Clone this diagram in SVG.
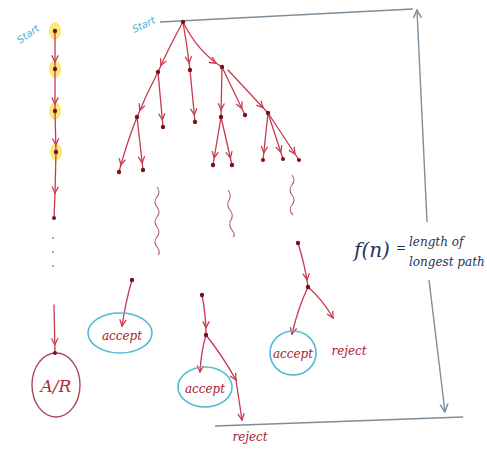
<svg xmlns="http://www.w3.org/2000/svg" width="487" height="453" viewBox="0 0 487 453">
<style>
.e{fill:none;stroke:#c8394f;stroke-width:1.3;stroke-linecap:round}
.ea{fill:none;stroke:#c8394f;stroke-width:1.3;stroke-linecap:round;marker-end:url(#ah)}
.et{fill:none;stroke:#c8394f;stroke-width:1.3;stroke-linecap:round;marker-end:url(#at)}
.sq{fill:none;stroke:#b86a7a;stroke-width:1.2}
.dot{fill:#7a1020}
.g{fill:none;stroke:#7d8e9c;stroke-width:1.4}
.ga{fill:none;stroke:#7d8e9c;stroke-width:1.4;marker-end:url(#ag)}
.blob{fill:#f7e24c;opacity:.75}
.st{font-family:"DejaVu Sans",sans-serif;font-size:10px;fill:#3cb4d8;font-style:italic}
.lbl{font-family:"DejaVu Serif","Liberation Serif",serif;font-style:italic;font-size:12px;fill:#a8182e}
.cl{fill:none;stroke:#4fbcd4;stroke-width:1.6}
.fn{font-family:"DejaVu Serif","Liberation Serif",serif;font-style:italic;fill:#22335a}
</style>
<defs>
<marker id="ah" viewBox="0 0 10 10" refX="18" refY="5" markerWidth="8" markerHeight="8" orient="auto" markerUnits="userSpaceOnUse"><path d="M1,1 L9,5 L1,9" fill="none" stroke="#c8394f" stroke-width="1.6"/></marker>
<marker id="at" viewBox="0 0 10 10" refX="9" refY="5" markerWidth="8" markerHeight="8" orient="auto" markerUnits="userSpaceOnUse"><path d="M1,1 L9,5 L1,9" fill="none" stroke="#c8394f" stroke-width="1.6"/></marker>
<marker id="ag" viewBox="0 0 10 10" refX="9" refY="5" markerWidth="10" markerHeight="10" orient="auto" markerUnits="userSpaceOnUse"><path d="M1,1 L9,5 L1,9" fill="none" stroke="#7d8e9c" stroke-width="1.5"/></marker>
</defs>
<rect width="487" height="453" fill="#ffffff"/>

<!-- frame lines -->
<g id="measure">
<path class="g" d="M160,22 L413,9"/>
<path class="g" d="M215,426 L463,417"/>
<path class="ga" d="M427,222 L417,10"/>
<path class="ga" d="M429,280 L445,412"/>
<text class="fn" x="354" y="257" font-size="20">f(n)</text>
<text class="fn" x="396" y="252" font-size="12">=</text>
<text class="fn" x="409" y="246" font-size="12">length of</text>
<text class="fn" x="409" y="266" font-size="12">longest path</text>
</g>

<!-- left chain -->
<g id="chain">
<ellipse class="blob" cx="55" cy="31" rx="6" ry="9"/>
<ellipse class="blob" cx="55" cy="69" rx="6" ry="9"/>
<ellipse class="blob" cx="55" cy="111" rx="6" ry="9"/>
<ellipse class="blob" cx="56" cy="152" rx="6" ry="9"/>
<text class="st" transform="translate(20,44) rotate(-35)">Start</text>
</g>

<g id="connectors">
<!-- left chain -->
<path class="ea" d="M55,31 L55,69"/>
<path class="ea" d="M55,69 L55,111"/>
<path class="ea" d="M55,111 L56,152"/>
<path class="et" d="M56,152 L55,193"/>
<path class="e" d="M55,193 L54,218"/>
<path class="ea" d="M54,305 L55,352"/>
<!-- main tree -->
<path class="ea" d="M183,22 Q170,45 158,72"/>
<path class="ea" d="M183,22 Q187,45 190,70"/>
<path class="ea" d="M183,22 Q198,52 222,67"/>
<path class="ea" d="M158,72 Q146,95 137,117"/>
<path class="ea" d="M158,72 L163,127"/>
<path class="ea" d="M190,70 L195,122"/>
<path class="ea" d="M137,117 Q126,145 119,172"/>
<path class="ea" d="M137,117 L143,170"/>
<path class="ea" d="M222,67 L221,117"/>
<path class="ea" d="M222,67 L245,115"/>
<path class="ea" d="M228,70 L268,113"/>
<path class="ea" d="M221,117 L213,165"/>
<path class="ea" d="M221,117 L232,165"/>
<path class="ea" d="M268,113 L263,160"/>
<path class="ea" d="M268,113 L283,159"/>
<path class="ea" d="M268,113 L299,160"/>
<!-- squiggles -->
<path class="sq" d="M157,187 q4,5 0,10 t0,10 t0,10 t0,10 t0,10 t0,10 t1,8"/>
<path class="sq" d="M228,190 q4,5 1,10 t1,10 t1,10 t1,10 t1,7"/>
<path class="sq" d="M292,175 q4,5 0,10 t0,10 t0,10 t1,10"/>
<!-- bottom subtrees -->
<path class="et" d="M132,280 Q126,300 122,326"/>
<path class="ea" d="M202,295 Q206,315 206,335"/>
<path class="et" d="M206,335 Q201,352 200,372"/>
<path class="et" d="M206,335 Q222,355 236,380"/>
<path class="et" d="M236,380 L242,420"/>
<path class="ea" d="M298,243 Q305,265 308,287"/>
<path class="et" d="M308,287 Q298,308 292,334"/>
<path class="et" d="M308,287 Q323,300 333,318"/>
</g>

<g id="start">
<text class="st" transform="translate(134,33) rotate(-25)">Start</text>
<circle class="dot" cx="183" cy="22" r="2.2"/>
</g>

<g id="chain-nodes">
<circle class="dot" cx="55" cy="31" r="2.2"/>
<circle class="dot" cx="55" cy="69" r="2.2"/>
<circle class="dot" cx="55" cy="111" r="2.2"/>
<circle class="dot" cx="56" cy="152" r="2.2"/>
<circle class="dot" cx="54" cy="218" r="2"/>
<circle cx="53" cy="238" r="1" fill="#9a8a90"/>
<circle cx="53" cy="252" r="1" fill="#9a8a90"/>
<circle cx="53" cy="266" r="1" fill="#9a8a90"/>
</g>

<g id="AR">
<ellipse cx="56" cy="385" rx="24" ry="32" fill="none" stroke="#a8485a" stroke-width="1.4"/>
<circle class="dot" cx="55" cy="353" r="2"/>
<text x="56" y="392" text-anchor="middle" font-family="DejaVu Serif, serif" font-style="italic" font-size="17" fill="#b8283e">A/R</text>
</g>

<g id="tree-nodes">
<circle class="dot" cx="158" cy="72" r="2.2"/>
<circle class="dot" cx="190" cy="70" r="2.2"/>
<circle class="dot" cx="222" cy="67" r="2.2"/>
<circle class="dot" cx="137" cy="117" r="2.2"/>
<circle class="dot" cx="163" cy="127" r="2.2"/>
<circle class="dot" cx="195" cy="122" r="2.2"/>
<circle class="dot" cx="119" cy="172" r="2.2"/>
<circle class="dot" cx="143" cy="170" r="2.2"/>
<circle class="dot" cx="221" cy="117" r="2.2"/>
<circle class="dot" cx="245" cy="115" r="2.2"/>
<circle class="dot" cx="268" cy="113" r="2.2"/>
<circle class="dot" cx="213" cy="165" r="2.2"/>
<circle class="dot" cx="232" cy="165" r="2.2"/>
<circle class="dot" cx="263" cy="160" r="2"/>
<circle class="dot" cx="283" cy="159" r="2"/>
<circle class="dot" cx="299" cy="160" r="2"/>
</g>

<g id="sub-left">
<circle class="dot" cx="132" cy="280" r="2.2"/>
<ellipse class="cl" cx="120" cy="333" rx="32" ry="20"/>
<text class="lbl" x="122" y="340" text-anchor="middle">accept</text>
</g>

<g id="sub-mid">
<circle class="dot" cx="202" cy="295" r="2.2"/>
<circle class="dot" cx="206" cy="335" r="2.2"/>
<ellipse class="cl" cx="205" cy="387" rx="27" ry="20"/>
<text class="lbl" x="205" y="393" text-anchor="middle">accept</text>
<text class="lbl" x="250" y="441" text-anchor="middle">reject</text>
</g>

<g id="sub-right">
<circle class="dot" cx="298" cy="243" r="2.2"/>
<circle class="dot" cx="308" cy="287" r="2.2"/>
<ellipse class="cl" cx="293" cy="353" rx="23" ry="22"/>
<text class="lbl" x="293" y="358" text-anchor="middle">accept</text>
<text class="lbl" x="349" y="355" text-anchor="middle">reject</text>
</g>
</svg>
